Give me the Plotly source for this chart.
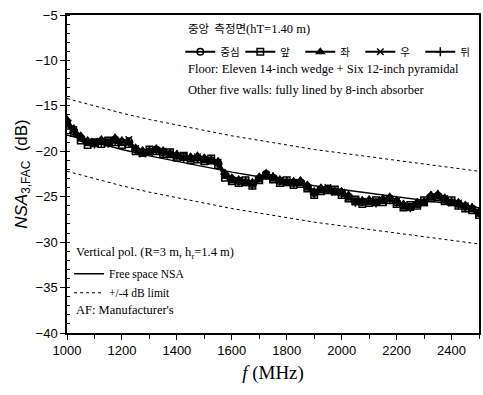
import plotly.graph_objects as go

freq = list(range(1000, 2501, 25))
center = [-16.8,-17.8,-18.5,-19.0,-19.1,-18.9,-19.0,-18.7,-19.0,-18.9,-19.8,-20.1,-20.0,-19.8,-20.1,-20.3,-20.5,-20.6,-20.8,-20.7,-20.9,-21.0,-21.3,-22.6,-23.1,-23.3,-23.4,-23.6,-23.0,-22.5,-22.9,-23.3,-23.4,-23.5,-23.4,-23.9,-24.6,-24.2,-24.1,-24.4,-24.6,-25.0,-25.5,-25.6,-25.5,-25.6,-25.4,-25.2,-25.6,-26.0,-26.1,-25.8,-25.6,-25.0,-24.9,-25.3,-25.6,-25.8,-26.1,-26.3,-26.8]
front = [-17.2,-18.0,-18.8,-19.3,-19.0,-19.2,-18.8,-19.0,-19.3,-19.2,-20.0,-20.2,-19.8,-20.0,-20.3,-20.1,-20.7,-20.5,-21.0,-20.9,-21.1,-20.8,-21.5,-22.9,-23.3,-23.5,-23.2,-23.8,-23.2,-22.7,-23.1,-23.5,-23.2,-23.7,-23.6,-24.1,-24.8,-24.4,-24.3,-24.2,-24.8,-25.2,-25.3,-25.8,-25.7,-25.4,-25.6,-25.4,-25.8,-26.2,-25.9,-26.0,-25.4,-25.2,-25.1,-25.5,-25.4,-26.0,-26.3,-26.5,-27.0]
left = [-16.5,-17.5,-18.3,-18.8,-19.3,-18.7,-19.2,-18.5,-18.8,-19.1,-19.6,-19.9,-20.2,-19.7,-19.9,-20.5,-20.3,-20.8,-20.6,-20.5,-20.7,-21.2,-21.1,-22.4,-22.9,-23.1,-23.6,-23.4,-22.8,-22.4,-22.8,-23.1,-23.6,-23.3,-23.2,-23.7,-24.4,-24.0,-24.3,-24.6,-24.4,-24.8,-25.7,-25.4,-25.3,-25.8,-25.2,-25.0,-25.4,-25.8,-26.3,-25.6,-25.8,-24.8,-24.7,-25.1,-25.8,-25.6,-25.9,-26.2,-26.6]
right = [-17.0,-17.6,-18.6,-19.1,-18.9,-19.0,-18.9,-18.9,-19.1,-18.7,-19.7,-20.3,-20.1,-19.9,-20.0,-20.4,-20.6,-20.7,-20.9,-20.6,-21.0,-21.1,-21.2,-22.7,-23.2,-23.2,-23.5,-23.5,-23.1,-22.6,-23.0,-23.2,-23.5,-23.4,-23.5,-24.0,-24.5,-24.3,-24.0,-24.5,-24.5,-25.1,-25.4,-25.5,-25.6,-25.5,-25.5,-25.3,-25.5,-26.1,-26.0,-25.9,-25.7,-25.1,-25.0,-25.2,-25.7,-25.7,-26.0,-26.4,-26.9]
back = [-16.6,-17.9,-18.4,-18.9,-19.2,-19.1,-19.1,-18.8,-18.9,-19.0,-19.9,-20.0,-19.9,-19.9,-20.2,-20.2,-20.4,-20.7,-20.7,-20.8,-20.8,-20.9,-21.4,-22.5,-23.0,-23.4,-23.3,-23.7,-22.9,-22.6,-22.8,-23.4,-23.3,-23.6,-23.3,-23.8,-24.7,-24.1,-24.2,-24.3,-24.7,-24.9,-25.6,-25.5,-25.4,-25.7,-25.3,-25.3,-25.7,-25.9,-26.2,-25.7,-25.5,-24.9,-24.8,-25.4,-25.5,-25.9,-26.2,-26.2,-26.7]

nsa_freq = list(range(1000, 2501, 100))
nsa = [-18.2,-19.0,-19.8,-20.5,-21.1,-21.7,-22.3,-22.8,-23.3,-23.8,-24.2,-24.6,-25.0,-25.4,-25.8,-26.2]
limit_db = 4
upper = [v + limit_db for v in nsa]
lower = [v - limit_db for v in nsa]

series_names = ["중심", "앞", "좌", "우", "뒤"]
series_vals = [center, front, left, right, back]
symbols = ["circle-open", "square-open", "triangle-up", "x-thin-open", "cross-thin-open"]

fig = go.Figure()
for name, vals, sym in zip(series_names, series_vals, symbols):
    fig.add_trace(go.Scatter(x=freq, y=vals, name=name, mode="lines+markers",
                             line=dict(color="black", width=2),
                             marker=dict(symbol=sym, size=6.5, color="black",
                                         line=dict(color="black", width=1.5)),
                             legend="legend"))

fig.add_trace(go.Scatter(x=nsa_freq, y=nsa, name="Free space NSA", mode="lines",
                         line=dict(color="black", width=1.4), legend="legend2"))
fig.add_trace(go.Scatter(x=nsa_freq, y=upper, name="+/-4 dB limit", mode="lines",
                         line=dict(color="black", width=1, dash="dot"), legend="legend2"))
fig.add_trace(go.Scatter(x=nsa_freq, y=lower, showlegend=False, mode="lines",
                         line=dict(color="black", width=1, dash="dot"), legend="legend2"))

serif = "Liberation Serif"
ann = [
    ("중앙&nbsp;&nbsp;측정면<span style='font-family:Liberation Serif;font-size:12.5px'>(hT=1.40 m)</span>",
     0.29, 0.958, dict(family="Noto Sans CJK KR", size=11.5)),
    ("Floor: Eleven 14-inch wedge + Six 12-inch pyramidal", 0.29, 0.83, dict(family=serif, size=12.5)),
    ("Other five walls: fully lined by 8-inch absorber", 0.29, 0.764, dict(family=serif, size=12.5)),
    ("Vertical pol. (R=3 m, h<sub>r</sub>=1.4 m)", 0.018, 0.252, dict(family=serif, size=12.5)),
    ("AF: Manufacturer's", 0.018, 0.072, dict(family=serif, size=12.5)),
]
for text, x, y, font in ann:
    fig.add_annotation(xref="paper", yref="paper", xanchor="left", yanchor="middle",
                       showarrow=False, text=text, x=x, y=y,
                       font=dict(font, color="black"))

tickfont = dict(family="Liberation Sans", size=13, color="black")
fig.update_layout(
    width=483, height=395,
    margin=dict(l=67, r=2, t=15, b=62),
    paper_bgcolor="white", plot_bgcolor="white",
    legend=dict(orientation="h", x=0.275, y=0.93, xanchor="left", yanchor="top",
                font=dict(family="Noto Sans CJK KR", size=10.5, color="black"),
                bgcolor="rgba(0,0,0,0)", itemwidth=30, tracegroupgap=0,
                entrywidth=15, entrywidthmode="pixels"),
    legend2=dict(orientation="v", x=0.005, y=0.232, xanchor="left", yanchor="top",
                 font=dict(family=serif, size=11.5, color="black"),
                 bgcolor="rgba(0,0,0,0)", itemwidth=30, tracegroupgap=0),
    xaxis=dict(range=[1000, 2500], tickvals=list(range(1000, 2501, 200)),
               ticks="outside", ticklen=5, tickwidth=1, tickcolor="black",
               showline=True, linecolor="black", linewidth=1.5, mirror=True,
               showgrid=False, zeroline=False, tickfont=tickfont,
               minor=dict(dtick=100, ticks="outside", ticklen=4, tickcolor="black"),
               title=dict(text="<i>f</i> (MHz)", font=dict(family=serif, size=19, color="black"),
                          standoff=8)),
    yaxis=dict(range=[-40, -5], dtick=5, ticks="outside", ticklen=5, tickwidth=1,
               tickcolor="black", showline=True, linecolor="black", linewidth=1.5,
               mirror=True, showgrid=False, zeroline=False, tickfont=tickfont,
               minor=dict(dtick=1, ticks="inside", ticklen=3, tickcolor="black"),
               title=dict(text="<i>NSA</i><sub>3,FAC</sub>  (dB)",
                          font=dict(family="Liberation Sans", size=17, color="black"),
                          standoff=4)),
)

fig.write_html("out.html")
